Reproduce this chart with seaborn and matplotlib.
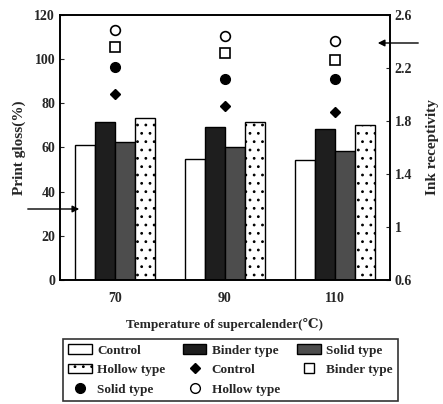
import pandas as pd
import seaborn as sns
import matplotlib.pyplot as plt
from matplotlib.patches import Patch
from matplotlib.lines import Line2D

# temperatures of supercalender
temps = ["70", "90", "110"]

# print gloss (%) bars, left axis
gloss_control = [61, 55, 54.5]
gloss_binder = [71.5, 69.5, 68.2]
gloss_solid = [62.5, 60.2, 58.5]
gloss_hollow = [73.2, 71.5, 70.2]

# ink receptivity markers, right axis
ink_control = [2.00, 1.91, 1.87]
ink_binder = [2.36, 2.31, 2.26]
ink_solid = [2.21, 2.12, 2.12]
ink_hollow = [2.49, 2.44, 2.40]

types = ["Control", "Binder type", "Solid type", "Hollow type"]

sns.set_style("ticks")
plt.rcParams['font.family'] = ['Liberation Serif', 'DejaVu Serif']
plt.rcParams['font.weight'] = 'bold'
plt.rcParams['hatch.linewidth'] = 0.8

rows = []
for name, vals in zip(types, [gloss_control, gloss_binder, gloss_solid, gloss_hollow]):
    for t, v in zip(temps, vals):
        rows.append({"temp": t, "type": name, "gloss": v})
df = pd.DataFrame(rows)

fig = plt.figure(figsize=(4.43, 4.04), dpi=100)
ax = fig.add_axes([60 / 443, 1 - 280 / 404, 330 / 443, 265 / 404])

face = {"Control": "white", "Binder type": "#1e1e1e",
        "Solid type": "#4d4d4d", "Hollow type": "white"}
hatch = {"Control": None, "Binder type": None,
         "Solid type": None, "Hollow type": ".."}

sns.barplot(data=df, x="temp", y="gloss", hue="type", hue_order=types,
            palette=face, width=0.73, ax=ax, legend=False,
            edgecolor="black", linewidth=1.0, saturation=1)
for cont, name in zip(ax.containers, types):
    for p in cont:
        p.set_hatch(hatch[name])
        p.set_edgecolor("black")

ax.set_ylim(0, 120)
ax.set_xlim(-0.5, 2.5)
ax.set_yticks(range(0, 121, 20))
ax.set_ylabel("Print gloss(%)", fontsize=11, fontweight='bold', labelpad=6)
ax.set_xlabel("Temperature of supercalender(\u2103)", fontsize=9.5,
              fontweight='bold', labelpad=9)
ax.tick_params(axis='y', direction='in', length=3, labelsize=10)
ax.tick_params(axis='x', length=0, labelsize=10, pad=9)
for s in ax.spines.values():
    s.set_linewidth(1.2)
    s.set_color("black")

ax2 = ax.twinx()
xs = [0, 1, 2]
ax2.plot(xs, ink_control, ls='none', marker='D', ms=5, color='black')
ax2.plot(xs, ink_binder, ls='none', marker='s', ms=7, mfc='white', mec='black', mew=1.2)
ax2.plot(xs, ink_solid, ls='none', marker='o', ms=7, color='black')
ax2.plot(xs, ink_hollow, ls='none', marker='o', ms=7, mfc='white', mec='black', mew=1.2)
ax2.set_ylim(0.6, 2.6)
ax2.set_yticks([0.6, 1.0, 1.4, 1.8, 2.2, 2.6])
ax2.set_yticklabels(["0.6", "1", "1.4", "1.8", "2.2", "2.6"])
ax2.tick_params(axis='y', direction='in', length=3, labelsize=10)
ax2.set_ylabel("Ink receptivity", fontsize=11, fontweight='bold', labelpad=10)
for s in ax2.spines.values():
    s.set_linewidth(1.2)
    s.set_color("black")

# arrows pointing to each axis
ax.annotate("", xy=(82 / 443, 1 - 209 / 404), xytext=(25 / 443, 1 - 209 / 404),
            xycoords='figure fraction',
            arrowprops=dict(arrowstyle='-|>', color='black', lw=1, mutation_scale=10))
ax.annotate("", xy=(375 / 443, 1 - 43 / 404), xytext=(421 / 443, 1 - 43 / 404),
            xycoords='figure fraction',
            arrowprops=dict(arrowstyle='-|>', color='black', lw=1, mutation_scale=10))

# legend
bar_h = {n: Patch(facecolor=face[n], edgecolor='black', hatch=hatch[n], label=n) for n in types}
m_ctrl = Line2D([], [], ls='none', marker='D', ms=5, color='black', label="Control")
m_bind = Line2D([], [], ls='none', marker='s', ms=7, mfc='white', mec='black', label="Binder type")
m_solid = Line2D([], [], ls='none', marker='o', ms=7, color='black', label="Solid type")
m_hollow = Line2D([], [], ls='none', marker='o', ms=7, mfc='white', mec='black', label="Hollow type")
handles = [bar_h["Control"], bar_h["Hollow type"], m_solid,
           bar_h["Binder type"], m_ctrl, m_hollow,
           bar_h["Solid type"], m_bind]
leg = fig.legend(handles=handles, labels=[h.get_label() for h in handles],
                 ncol=3, loc='upper left', mode='expand',
                 bbox_to_anchor=(63 / 443, 4 / 404, 335 / 443, 61 / 404),
                 borderaxespad=0,
                 fontsize=9.5, frameon=True, fancybox=False, edgecolor='black',
                 handlelength=1.8, handletextpad=0.4, labelspacing=0.55,
                 borderpad=0.4, columnspacing=0.6)
leg.get_frame().set_linewidth(1.2)

fig.savefig("out.png", dpi=100)
